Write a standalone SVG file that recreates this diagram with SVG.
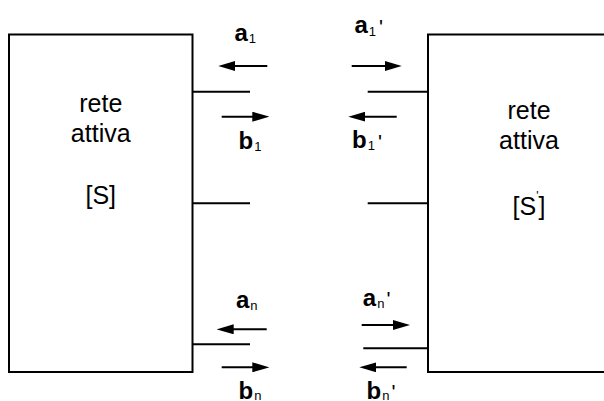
<svg xmlns="http://www.w3.org/2000/svg" width="604" height="401" viewBox="0 0 604 401">
  <style>
    .box { fill: #fff; stroke: #000; stroke-width: 2; }
    .port { stroke: #000; stroke-width: 2; fill: none; }
    .arrow { stroke: #000; stroke-width: 2; fill: none; marker-end: url(#head); }
    .title { font-family: "Liberation Sans", Arial, sans-serif; font-size: 25px; fill: #000; text-anchor: middle; }
    .lab { font-family: "Liberation Sans", Arial, sans-serif; font-size: 24px; font-weight: bold; fill: #000; }
    .sub { font-size: 13px; font-weight: normal; }
    .pr { font-size: 21px; font-weight: normal; }
  </style>
  <defs>
    <marker id="head" markerUnits="userSpaceOnUse" markerWidth="17" markerHeight="10" refX="7" refY="5" orient="auto">
      <path d="M0,0 L17,5 L0,10 z" fill="#000"/>
    </marker>
  </defs>

  <!-- left network -->
  <g id="net-left">
    <rect class="box" x="9" y="34.5" width="183.5" height="337.5"/>
    <text class="title" x="100.75" y="111.7">rete</text>
    <text class="title" x="100.75" y="141.7">attiva</text>
    <text class="title" x="100.75" y="204">[S]</text>
  </g>

  <!-- right network -->
  <g id="net-right">
    <rect class="box" x="428" y="34.5" width="190" height="337.5"/>
    <text class="title" x="529" y="119.3">rete</text>
    <text class="title" x="529" y="149.3">attiva</text>
    <text class="title" x="529" y="215">[S<tspan font-size="12" dy="-15">'</tspan><tspan dy="15">]</tspan></text>
  </g>

  <!-- port terminals and wave arrows -->
  <g id="connectors">
    <line class="port" x1="192.5" y1="91.7" x2="250" y2="91.7"/>
    <line class="port" x1="192.5" y1="203.3" x2="250" y2="203.3"/>
    <line class="port" x1="192.5" y1="344.3" x2="250" y2="344.3"/>
    <line class="port" x1="367.7" y1="91.7" x2="428" y2="91.7"/>
    <line class="port" x1="367.7" y1="203.3" x2="428" y2="203.3"/>
    <line class="port" x1="363.3" y1="348.3" x2="428" y2="348.3"/>

    <line class="arrow" x1="267.3" y1="66" x2="228.3" y2="66"/>
    <line class="arrow" x1="221.7" y1="116.7" x2="259.3" y2="116.7"/>
    <line class="arrow" x1="351.7" y1="66" x2="391.7" y2="66"/>
    <line class="arrow" x1="396.7" y1="116.7" x2="358.3" y2="116.7"/>
    <line class="arrow" x1="266.7" y1="329.3" x2="226.7" y2="329.3"/>
    <line class="arrow" x1="221.7" y1="367.3" x2="259.3" y2="367.3"/>
    <line class="arrow" x1="361.7" y1="325" x2="400" y2="325"/>
    <line class="arrow" x1="406.7" y1="367.3" x2="369.3" y2="367.3"/>
  </g>

  <!-- wave labels -->
  <g id="labels">
    <text class="lab" x="234.5" y="40.7">a<tspan class="sub" dx="1" dy="2">1</tspan></text>
    <text class="lab" x="238.5" y="149">b<tspan class="sub" dx="1" dy="1.5">1</tspan></text>
    <text class="lab" x="354.5" y="33.3">a<tspan class="sub" dx="1" dy="2.5">1</tspan><tspan class="pr" dx="3" dy="-2">'</tspan></text>
    <text class="lab" x="352" y="148">b<tspan class="sub" dx="1" dy="1.5">1</tspan><tspan class="pr" dx="3" dy="-1">'</tspan></text>
    <text class="lab" x="236" y="308.3">a<tspan class="sub" dx="1" dy="2">n</tspan></text>
    <text class="lab" x="238.5" y="398.5">b<tspan class="sub" dx="1" dy="1">n</tspan></text>
    <text class="lab" x="362.8" y="306">a<tspan class="sub" dx="1" dy="2">n</tspan><tspan class="pr" dx="2" dy="-2">'</tspan></text>
    <text class="lab" x="366.5" y="398.5">b<tspan class="sub" dx="1" dy="1">n</tspan><tspan class="pr" dx="2" dy="-1">'</tspan></text>
  </g>
</svg>
